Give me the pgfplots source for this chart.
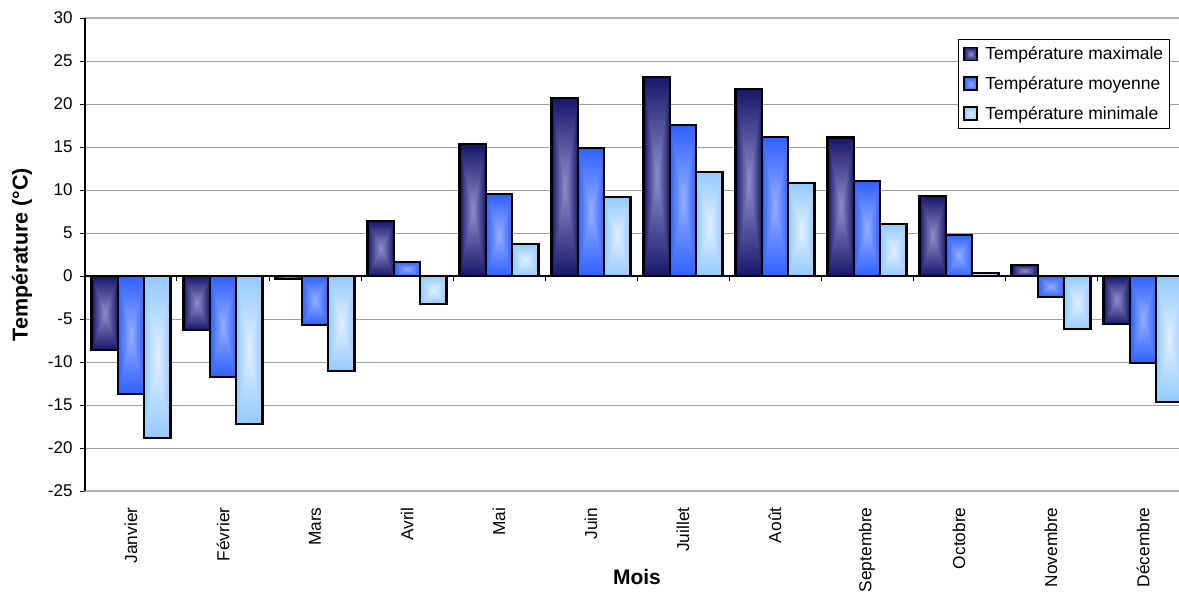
\documentclass[border=0pt]{standalone}
\usepackage{pgfplots}
\pgfplotsset{compat=1.18}
\usepackage{fontspec}
\setmainfont{Liberation Sans}

% Rectangular "box" gradients: light centre, dark edges
\pgfdeclarefunctionalshading{boxmax}{\pgfpoint{-50bp}{-50bp}}{\pgfpoint{50bp}{50bp}}{}{
  abs exch abs 2 copy lt {exch} if pop 25 div dup 1 gt {pop 1} if
  dup -0.47 mul 0.56 add exch dup -0.47 mul 0.56 add exch -0.38 mul 0.80 add }
\pgfdeclarefunctionalshading{boxmoy}{\pgfpoint{-50bp}{-50bp}}{\pgfpoint{50bp}{50bp}}{}{
  abs exch abs 2 copy lt {exch} if pop 25 div dup 1 gt {pop 1} if
  dup -0.40 mul 0.58 add exch dup -0.30 mul 0.68 add exch 0.0 mul 1.0 add }
\pgfdeclarefunctionalshading{boxmin}{\pgfpoint{-50bp}{-50bp}}{\pgfpoint{50bp}{50bp}}{}{
  abs exch abs 2 copy lt {exch} if pop 25 div dup 1 gt {pop 1} if
  dup -0.30 mul 0.88 add exch dup -0.15 mul 0.94 add exch -0.01 mul 1.0 add }

% Monthly temperatures (°C): max, mean, min
\pgfplotstableread{
x tmax tmoy tmin
0  -8.6 -13.7 -18.8
1  -6.3 -11.7 -17.2
2  -0.3  -5.7 -11.0
3   6.4   1.6  -3.3
4  15.3   9.5   3.7
5  20.7  14.9   9.2
6  23.1  17.6  12.1
7  21.7  16.2  10.8
8  16.1  11.0   6.0
9   9.3   4.8   0.3
10  1.3  -2.4  -6.2
11 -5.6 -10.1 -14.6
}\temps

\pgfplotsset{
  tbar/.style={ybar, draw=black, line width=2.1pt, forget plot},
}

\begin{document}
\begin{tikzpicture}
\begin{axis}[
  scale only axis,
  width=1104pt, height=473pt,
  xmin=-0.5, xmax=11.5,
  ymin=-25, ymax=30,
  xtick={0,...,11},
  xticklabels={Janvier,Février,Mars,Avril,Mai,Juin,Juillet,Août,Septembre,Octobre,Novembre,Décembre},
  xticklabel style={rotate=90, anchor=east, font=\fontsize{17.3}{20}\selectfont, xshift=-8pt},
  xtick style={draw=none},
  ytick={-25,-20,...,30},
  yticklabels={-25,-20,-15,-10,-5,0,5,10,15,20,25,30},
  yticklabel style={font=\fontsize{17}{20}\selectfont, xshift=-4pt},
  ytick style={black, line width=1pt},
  tick align=outside,
  ytick pos=left,
  major tick length=5pt,
  ymajorgrids,
  grid style={gray!75, line width=1pt},
  axis line style={gray!60, line width=1.2pt},
  ylabel={\textbf{Température (°C)}},
  ylabel style={at={(axis description cs:0,0.5)}, anchor=center, yshift=63pt, font=\fontsize{21.5}{25}\selectfont},
  xlabel={\textbf{Mois}},
  xlabel style={at={(axis description cs:0.5,0)}, anchor=center, yshift=-86pt, font=\fontsize{21}{25}\selectfont},
  bar width=0.286,
  legend style={at={(rel axis cs:0.983,0.956)}, anchor=north east,
    draw=black, line width=1pt, fill=white,
    font=\fontsize{17.5}{21}\selectfont,
    row sep=12.5pt, inner xsep=5pt, inner ysep=6pt,
    nodes={inner sep=1.5pt}},
  legend cell align=left,
  legend image code/.code={\draw[#1, line width=1.9pt] (0pt,-6.5pt) rectangle (13pt,6.5pt);
    \path (19pt,0pt);},
  clip=false,
]
% left axis line and zero line in black
\draw[black, line width=1.4pt] (rel axis cs:0,0) -- (rel axis cs:0,1);
\draw[black, line width=1.3pt] (axis cs:-0.5,0) -- (axis cs:11.5,0);
% one path per bar so that each bar carries its own gradient
\pgfplotsinvokeforeach{0,...,11}{
  \addplot[tbar, bar shift=-0.286, shading=boxmax,
    x filter/.expression={abs(x-#1)<0.01 ? x : nan}] table[x=x, y=tmax] {\temps};
  \addplot[tbar, bar shift=0, shading=boxmoy,
    x filter/.expression={abs(x-#1)<0.01 ? x : nan}] table[x=x, y=tmoy] {\temps};
  \addplot[tbar, bar shift=0.286, shading=boxmin,
    x filter/.expression={abs(x-#1)<0.01 ? x : nan}] table[x=x, y=tmin] {\temps};
}
\addlegendimage{draw=black, shading=boxmax}
\addlegendentry{Température maximale}
\addlegendimage{draw=black, shading=boxmoy}
\addlegendentry{Température moyenne}
\addlegendimage{draw=black, shading=boxmin}
\addlegendentry{Température minimale}
% category separators on the zero line
\pgfplotsinvokeforeach{0.5,1.5,...,10.5}{
  \draw[black, line width=1pt] (axis cs:#1,0) -- ++(0pt,-5pt);
}
\end{axis}
\pgfresetboundingbox
\path[use as bounding box] (-85pt,-101pt) rectangle (1094pt,491pt);
\end{tikzpicture}
\end{document}
